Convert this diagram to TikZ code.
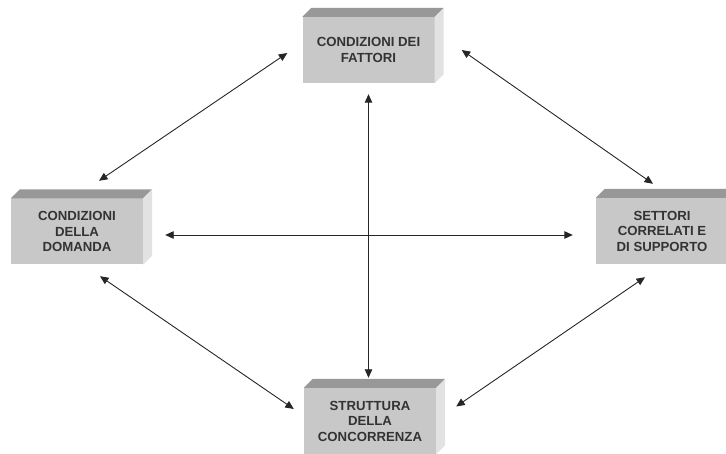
\documentclass[tikz,border=0pt]{standalone}
\usepackage{fontspec}
\newfontfamily\arialfont{Liberation Sans}
\usetikzlibrary{arrows.meta}
\definecolor{facefront}{RGB}{200,200,200}
\definecolor{facetop}{RGB}{152,152,152}
\definecolor{faceside}{RGB}{226,226,226}

\begin{document}
\begin{tikzpicture}[x=1pt, y=-1pt, >={Triangle[length=8.5pt,width=7.5pt]},
  factor/.style={fill=facefront, minimum width=132pt, minimum height=66pt, inner sep=0pt, align=center,
    font=\arialfont\bfseries\fontsize{13.2}{15.5}\selectfont, text=black!80},
  link/.style={<->, line width=0.9pt, draw=black!85}]
\clip (0,0) rectangle (726,454);
\node [factor] (fat) at (368.5,50) {CONDIZIONI DEI\\FATTORI};
\node [factor] (dom) at (77,231.5) {CONDIZIONI\\DELLA\\DOMANDA};
\node [factor] (set) at (662,231) {SETTORI\\CORRELATI E\\DI SUPPORTO};
\node [factor] (con) at (370,421) {STRUTTURA\\DELLA\\CONCORRENZA};
\foreach \n in {fat,dom,set,con} {
  \fill [facetop] (\n.north west) -- ++(9,-9) -- ([shift={(9,-9)}]\n.north east) -- (\n.north east) -- cycle;
  \fill [faceside] (\n.north east) -- ([shift={(9,-9)}]\n.north east) -- ([shift={(9,-9)}]\n.south east) -- (\n.south east) -- cycle;
}
\draw [link] ([xshift=-15pt,yshift=-3pt]fat.west) -- ([xshift=22pt,yshift=17.5pt]dom.north);
\draw [link] ([xshift=27pt]fat.east) -- ([xshift=-9pt,yshift=14pt]set.north);
\draw [link] ([xshift=23pt,yshift=-11.5pt]dom.south) -- ([xshift=-10pt,yshift=12pt]con.west);
\draw [link] ([xshift=-17pt,yshift=-13pt]set.south) -- ([xshift=20pt,yshift=14.5pt]con.east);
\draw [link] ([yshift=-11pt]fat.south) -- ([yshift=10pt]fat.south |- con.north);
\draw [link] ([xshift=22pt,yshift=-3.5pt]dom.east) -- ([xshift=-23pt,yshift=-3.5pt]dom.east -| set.west);
\end{tikzpicture}
\end{document}
